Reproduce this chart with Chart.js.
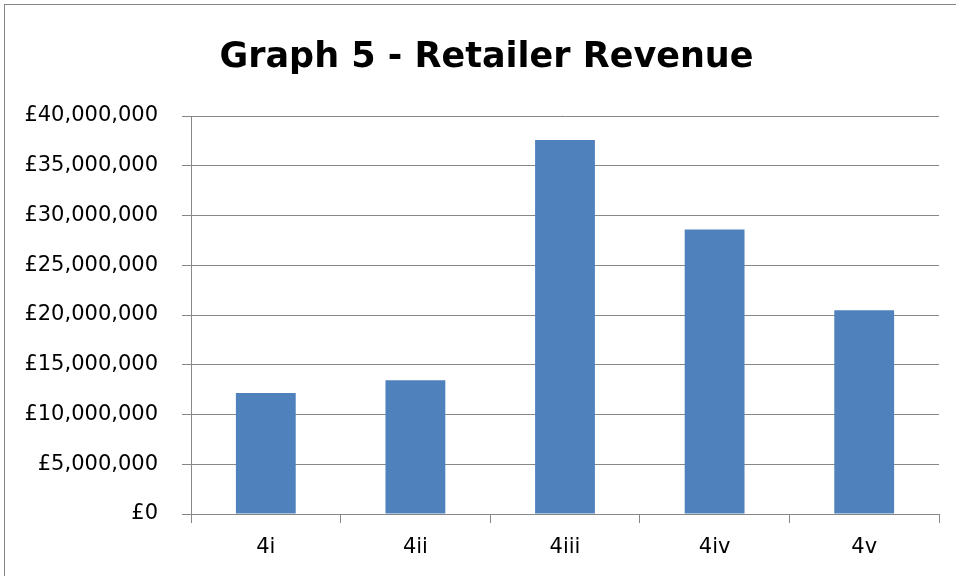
<!DOCTYPE html>
<html>
<head>
<meta charset="utf-8">
<script src="https://cdn.jsdelivr.net/npm/chart.js@4"></script>
<style>
  html, body { margin: 0; padding: 0; background: #fff; overflow: hidden; }
  #frame {
    position: absolute; left: 4px; top: 4px;
    width: 1000px; height: 1000px;
    border: 1px solid #868686;
  }
  #wrap { position: absolute; left: 0; top: 0; width: 956px; height: 576px; }
</style>
</head>
<body>
<div id="frame"></div>
<div id="wrap"><canvas id="revenue_chart" width="956" height="576"></canvas></div>
<script>
const categories = ["4i", "4ii", "4iii", "4iv", "4v"];
const revenue = [12160000, 13430000, 37580000, 28600000, 20480000];

const yMin = 0;
const yMax = 40000000;
const yStep = 5000000;

const gridColor = "#878787";
const fontFamily = "'DejaVu Sans', sans-serif";

function formatPounds(v) {
  return "£" + Number(v).toLocaleString("en-GB");
}

// the original title sits a little right of the canvas centre
const shiftTitle = {
  id: "shiftTitle",
  afterLayout(chart) {
    const t = chart.titleBlock;
    if (t) {
      t.left += 17;
      t.right += 17;
    }
  },
};

const chartElem = document.getElementById("revenue_chart");

const revenueChart = new Chart(chartElem, {
  type: "bar",
  data: {
    labels: categories,
    datasets: [
      {
        label: "Retailer Revenue",
        data: revenue,
        backgroundColor: "#4f81bd",
        borderWidth: 0,
        barPercentage: 0.4,
        categoryPercentage: 1,
      },
    ],
  },
  plugins: [shiftTitle],
  options: {
    responsive: false,
    animation: false,
    layout: {
      padding: { left: 0, right: 17, top: 0, bottom: 0 },
    },
    plugins: {
      legend: { display: false },
      tooltip: { enabled: false },
      title: {
        display: true,
        text: "Graph 5 - Retailer Revenue",
        color: "#000",
        font: { family: fontFamily, size: 35, weight: "bold", lineHeight: 1.2 },
        padding: { top: 37, bottom: 37 },
      },
    },
    scales: {
      x: {
        grid: {
          offset: true,
          drawOnChartArea: false,
          drawTicks: true,
          tickLength: 9,
          color: gridColor,
        },
        border: { color: gridColor, width: 1 },
        ticks: {
          color: "#000",
          padding: 12,
          font: { family: fontFamily, size: 21 },
        },
        afterFit: (scale) => {
          scale.height = 62;
        },
      },
      y: {
        min: yMin,
        max: yMax,
        grid: {
          color: gridColor,
          tickLength: 9,
        },
        border: { color: gridColor, width: 1 },
        ticks: {
          stepSize: yStep,
          color: "#000",
          padding: 24,
          font: { family: fontFamily, size: 21 },
          callback: (v) => formatPounds(v),
        },
        afterFit: (scale) => {
          scale.width = 191;
        },
      },
    },
  },
});
</script>
</body>
</html>
